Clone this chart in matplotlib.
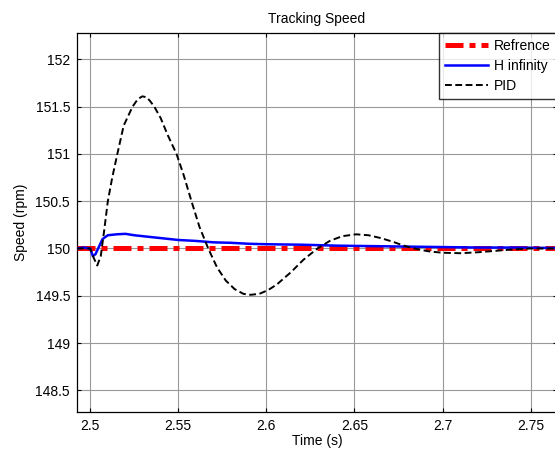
import matplotlib
matplotlib.use("Agg")
import matplotlib.pyplot as plt

plt.rcParams['font.family'] = ['Liberation Sans', 'DejaVu Sans']

# Reference speed
ref_t = [2.4925, 2.765]
ref_v = [150.0, 150.0]

# H infinity controller response
hinf_t = [2.4925, 2.4960, 2.5000, 2.5015, 2.5030, 2.5050, 2.5070, 2.5100, 2.5150,
          2.5200, 2.5250, 2.5300, 2.5400, 2.5500, 2.5600, 2.5700, 2.5800, 2.5900,
          2.6000, 2.6200, 2.6400, 2.6600, 2.6800, 2.7000, 2.7200, 2.7400, 2.7650]
hinf_v = [150.00, 150.01, 150.00, 149.92, 149.94, 150.02, 150.10, 150.14, 150.15,
          150.155, 150.14, 150.13, 150.11, 150.09, 150.08, 150.065, 150.06, 150.05,
          150.045, 150.04, 150.03, 150.025, 150.02, 150.015, 150.01, 150.01, 150.005]

# PID controller response
pid_t = [2.4925, 2.5000, 2.5020, 2.5040, 2.5060, 2.5080, 2.5100, 2.5125, 2.5154,
         2.5190, 2.5240, 2.5270, 2.5296, 2.5320, 2.5340, 2.5364, 2.5400, 2.5440,
         2.5490, 2.5530, 2.5575, 2.5620, 2.5670, 2.5720, 2.5770, 2.5820, 2.5870,
         2.5910, 2.5960, 2.6010, 2.6060, 2.6140, 2.6210, 2.6290, 2.6360, 2.6430,
         2.6510, 2.6580, 2.6650, 2.6720, 2.6780, 2.6840, 2.6920, 2.7000, 2.7100,
         2.7200, 2.7300, 2.7400, 2.7500, 2.7650]
pid_v = [150.00, 150.00, 149.90, 149.82, 149.92, 150.20, 150.50, 150.75, 151.00,
         151.30, 151.50, 151.58, 151.61, 151.60, 151.56, 151.50, 151.38, 151.20,
         151.00, 150.78, 150.50, 150.23, 150.00, 149.80, 149.66, 149.57, 149.52,
         149.51, 149.52, 149.56, 149.62, 149.75, 149.88, 150.00, 150.08, 150.13,
         150.15, 150.14, 150.11, 150.07, 150.03, 150.00, 149.97, 149.955, 149.95,
         149.96, 149.975, 149.99, 150.00, 150.00]

xticks = [2.5, 2.55, 2.6, 2.65, 2.7, 2.75]
xticklabels = ['2.5', '2.55', '2.6', '2.65', '2.7', '2.75']
yticks = [148.5, 149, 149.5, 150, 150.5, 151, 151.5, 152]
yticklabels = ['148.5', '149', '149.5', '150', '150.5', '151', '151.5', '152']

fig = plt.figure(figsize=(5.55, 4.5), dpi=100)
ax = fig.add_axes([77 / 555, 1 - 412 / 450, 480 / 555, 379 / 450])

ax.plot(ref_t, ref_v, color='#ff0000', lw=3.6,
        linestyle=(0, (3.6, 1.2, 1.2, 1.2)), dash_capstyle='butt',
        label='Refrence', zorder=3)
ax.plot(hinf_t, hinf_v, color='#0000ff', lw=1.8, label='H infinity', zorder=4)
ax.plot(pid_t, pid_v, color='black', lw=1.4, linestyle=(0, (3.5, 1.8)),
        label='PID', zorder=5)

ax.set_xlim(2.4925, 2.765)
ax.set_ylim(148.27, 152.28)
ax.set_xticks(xticks)
ax.set_xticklabels(xticklabels)
ax.set_yticks(yticks)
ax.set_yticklabels(yticklabels)
ax.tick_params(direction='in', top=True, right=True, length=3, width=0.8,
               labelsize=10, pad=5)
ax.grid(True, color='#999999', lw=0.8, linestyle='-')
ax.set_axisbelow(True)
for s in ax.spines.values():
    s.set_linewidth(0.9)

ax.set_title('Tracking Speed', fontsize=10, pad=7)
ax.set_xlabel('Time (s)', fontsize=10, labelpad=1)
ax.set_ylabel('Speed (rpm)', fontsize=10, labelpad=5)

leg = ax.legend(loc='upper right', bbox_to_anchor=(1.0, 1.0), fontsize=10,
                frameon=True, fancybox=False, edgecolor='black',
                handlelength=3.1, handletextpad=0.4, borderaxespad=0.0,
                labelspacing=0.42, borderpad=0.45)
leg.get_frame().set_linewidth(1.0)

fig.savefig('out.png', dpi=100)
